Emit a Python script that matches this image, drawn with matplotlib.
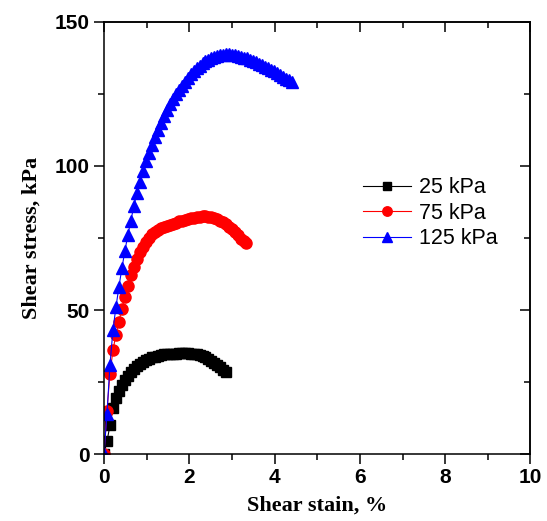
import matplotlib
matplotlib.use("Agg")
import matplotlib.pyplot as plt
from matplotlib.ticker import MultipleLocator

plt.rcParams["font.family"] = ["Liberation Sans", "DejaVu Sans"]

# ---- data ----
strain_25 = [0.00, 0.07, 0.14, 0.21, 0.28, 0.35, 0.42, 0.49, 0.56, 0.63, 0.70, 0.77, 0.84, 0.91,
             0.98, 1.05, 1.12, 1.19, 1.26, 1.33, 1.40, 1.47, 1.54, 1.61, 1.68, 1.75, 1.82, 1.89,
             1.96, 2.03, 2.10, 2.17, 2.24, 2.31, 2.38, 2.45, 2.52, 2.59, 2.66, 2.73, 2.80, 2.87]
stress_25 = [0.0, 4.5, 10.0, 16.0, 19.5, 22.0, 24.0, 25.8, 27.3, 28.6, 29.7, 30.6, 31.4, 32.1,
             32.7, 33.2, 33.6, 33.9, 34.2, 34.4, 34.6, 34.7, 34.8, 34.9, 34.9, 35.0, 35.0, 35.0,
             35.0, 34.9, 34.9, 34.7, 34.5, 34.1, 33.6, 33.0, 32.4, 31.7, 30.9, 30.1, 29.2, 28.5]

strain_75 = [0.00, 0.07, 0.14, 0.21, 0.28, 0.35, 0.42, 0.49, 0.56, 0.63, 0.70, 0.77, 0.84, 0.91,
             0.98, 1.05, 1.12, 1.19, 1.26, 1.33, 1.40, 1.47, 1.54, 1.61, 1.68, 1.75, 1.82, 1.89,
             1.96, 2.03, 2.10, 2.17, 2.24, 2.31, 2.38, 2.45, 2.52, 2.59, 2.66, 2.73, 2.80, 2.87,
             2.94, 3.01, 3.08, 3.15, 3.22, 3.29, 3.33]
stress_75 = [0.0, 15.0, 28.0, 36.0, 41.5, 46.0, 50.5, 54.5, 58.5, 62.0, 65.0, 67.8, 70.0, 72.0,
             73.5, 75.0, 76.2, 77.1, 77.8, 78.3, 78.7, 79.1, 79.5, 79.9, 80.3, 80.7, 81.0, 81.3,
             81.6, 81.8, 82.0, 82.2, 82.4, 82.5, 82.5, 82.4, 82.2, 81.9, 81.5, 81.0, 80.4, 79.7,
             78.9, 78.0, 77.0, 75.9, 74.7, 73.8, 73.3]

strain_125 = [0.00, 0.07, 0.14, 0.21, 0.28, 0.35, 0.42, 0.49, 0.56, 0.63, 0.70, 0.77, 0.84, 0.91,
              0.98, 1.05, 1.12, 1.19, 1.26, 1.33, 1.40, 1.47, 1.54, 1.61, 1.68, 1.75, 1.82, 1.89,
              1.96, 2.03, 2.10, 2.17, 2.24, 2.31, 2.38, 2.45, 2.52, 2.59, 2.66, 2.73, 2.80, 2.87,
              2.94, 3.01, 3.08, 3.15, 3.22, 3.29, 3.36, 3.43, 3.50, 3.57, 3.64, 3.71, 3.78, 3.85,
              3.92, 3.99, 4.06, 4.13, 4.20, 4.27, 4.34, 4.41]
stress_125 = [0.0, 14.0, 31.0, 43.0, 51.0, 58.0, 64.5, 70.5, 76.0, 81.0, 86.0, 90.5, 94.5, 98.3,
              101.8, 104.5, 107.3, 110.0, 112.5, 115.0, 117.2, 119.3, 121.3, 123.1, 124.8, 126.3,
              127.8, 129.2, 130.5, 131.7, 132.8, 133.8, 134.7, 135.5, 136.2, 136.8, 137.3, 137.7,
              138.0, 138.3, 138.5, 138.6, 138.6, 138.5, 138.3, 138.1, 137.8, 137.5, 137.2, 136.8,
              136.4, 135.9, 135.4, 134.9, 134.4, 133.9, 133.3, 132.7, 132.1, 131.4, 130.8, 130.2,
              129.6, 129.1]

labels = ["25 kPa", "75 kPa", "125 kPa"]
x_ticks = [0, 2, 4, 6, 8, 10]
y_ticks = [0, 50, 100, 150]

# ---- figure ----
fig = plt.figure(figsize=(5.47, 5.21), dpi=100)
ax = fig.add_axes([0.1901, 0.128, 0.9698 - 0.1901, 0.9587 - 0.128])

ax.plot(strain_25, stress_25, color="black", marker="s", ms=7, lw=0.8, label=labels[0])
ax.plot(strain_75, stress_75, color="red", marker="o", ms=8, lw=0.8, label=labels[1])
ax.plot(strain_125, stress_125, color="blue", marker="^", ms=9, lw=0.8, label=labels[2])

ax.set_xlim(0, 10)
ax.set_ylim(0, 150)
ax.set_xticks(x_ticks)
ax.set_xticklabels([str(v) for v in x_ticks], fontweight="bold", fontsize=15)
ax.set_yticks(y_ticks)
ax.set_yticklabels([str(v) for v in y_ticks], fontweight="bold", fontsize=15)
ax.xaxis.set_minor_locator(MultipleLocator(1))
ax.yaxis.set_minor_locator(MultipleLocator(25))

for s in ax.spines.values():
    s.set_linewidth(1.1)

ax.tick_params(which="major", direction="out", length=7, width=1.1, pad=3)
ax.tick_params(which="minor", direction="out", length=4, width=1.1)
ax.tick_params(which="both", top=False, right=False)

axt = ax.secondary_xaxis("top")
axt.set_xticks(x_ticks)
axt.xaxis.set_minor_locator(MultipleLocator(1))
axt.tick_params(which="major", direction="in", length=7, width=1.1, labeltop=False)
axt.tick_params(which="minor", direction="in", length=4, width=1.1)
axt.spines["top"].set_linewidth(1.1)
axr = ax.secondary_yaxis("right")
axr.set_yticks(y_ticks)
axr.yaxis.set_minor_locator(MultipleLocator(25))
axr.tick_params(which="major", direction="in", length=7, width=1.1, labelright=False)
axr.tick_params(which="minor", direction="in", length=4, width=1.1)
axr.spines["right"].set_linewidth(1.1)

ax.set_xlabel("Shear stain, %", family="Liberation Serif", fontweight="bold",
              fontsize=16, labelpad=6)
ax.set_ylabel("Shear stress, kPa", family="Liberation Serif", fontweight="bold",
              fontsize=16, labelpad=10)

leg = ax.legend(loc="center left", bbox_to_anchor=(0.608, 0.557), frameon=False,
                prop={"family": "Liberation Sans", "size": 15.5},
                handlelength=2.2, handletextpad=0.4, labelspacing=0.2,
                borderpad=0, borderaxespad=0, markerscale=0.85)

fig.savefig("out.png", dpi=100)
